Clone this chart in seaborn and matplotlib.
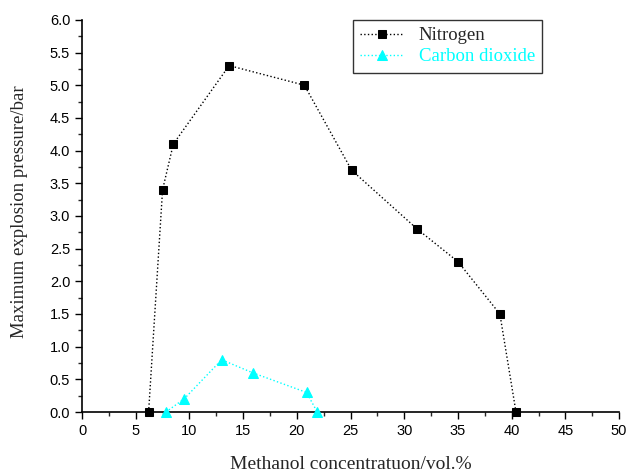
import numpy as np
import pandas as pd
import matplotlib
matplotlib.use("Agg")
import matplotlib.pyplot as plt
import seaborn as sns

# Данные
n2_conc = [6.2, 7.5, 8.5, 13.7, 20.7, 25.1, 31.2, 35.0, 38.9, 40.4]
n2_pmax = [0.0, 3.4, 4.1, 5.3, 5.0, 3.7, 2.8, 2.3, 1.5, 0.0]

co2_conc = [7.8, 9.5, 13.0, 15.9, 20.9, 21.9]
co2_pmax = [0.0, 0.2, 0.8, 0.6, 0.3, 0.0]

df = pd.concat([
    pd.DataFrame({"conc": n2_conc, "pmax": n2_pmax, "gas": "Nitrogen"}),
    pd.DataFrame({"conc": co2_conc, "pmax": co2_pmax, "gas": "Carbon dioxide"}),
])

sns.set_style("ticks")
plt.rcParams["font.family"] = ["Liberation Sans", "DejaVu Sans"]
serif = ["Liberation Serif", "DejaVu Serif"]

fig = plt.figure(figsize=(6.26, 4.72), dpi=100)
ax = fig.add_axes([0.131, 0.127, 0.858, 0.831])

palette = {"Nitrogen": "black", "Carbon dioxide": "#00ffff"}
markers = {"Nitrogen": "s", "Carbon dioxide": "^"}
msizes = {"Nitrogen": 6, "Carbon dioxide": 7}

for gas in ["Nitrogen", "Carbon dioxide"]:
    sub = df[df["gas"] == gas]
    sns.lineplot(data=sub, x="conc", y="pmax", ax=ax, color=palette[gas],
                 marker=markers[gas], markersize=msizes[gas],
                 markeredgecolor=palette[gas], linestyle=":", linewidth=1,
                 label=gas, sort=False, clip_on=False, zorder=3)

ax.set_xlim(0, 50)
ax.set_ylim(0, 6)
ax.set_xticks(np.arange(0, 51, 5))
ax.set_xticks(np.arange(2.5, 50, 5), minor=True)
ax.set_yticks(np.arange(0, 6.01, 0.5))
ax.set_yticks(np.arange(0.25, 6, 0.5), minor=True)
ax.set_yticklabels([f"{v:.1f}" for v in np.arange(0, 6.01, 0.5)])
ax.tick_params(which="major", direction="out", length=5, width=1, labelsize=10.5, colors="black")
ax.tick_params(which="minor", direction="out", length=3, width=1)
sns.despine(ax=ax)
for s in ["left", "bottom"]:
    ax.spines[s].set_linewidth(1.2)
    ax.spines[s].set_color("black")

ax.set_xlabel("Methanol concentratuon/vol.%", fontsize=14, family=serif, labelpad=13)
ax.set_ylabel("Maximum explosion pressure/bar", fontsize=13.5, family=serif)
ax.yaxis.set_label_coords(-0.10, 0.51)

leg = ax.legend(loc="upper right", bbox_to_anchor=(0.857, 1.0), borderaxespad=0,
                frameon=True, fancybox=False, edgecolor="black",
                handlelength=2.3, handletextpad=0.8,
                prop={"family": serif, "size": 13.5},
                borderpad=0.4, labelspacing=0.2)
leg.get_frame().set_linewidth(1)
leg.get_texts()[1].set_color("#00ffff")

fig.savefig("out.png", dpi=100)
